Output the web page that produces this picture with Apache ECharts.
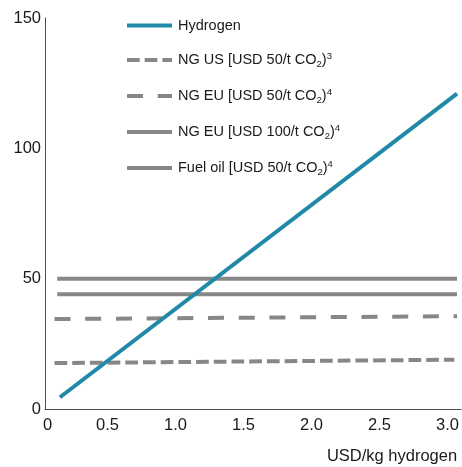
<!DOCTYPE html>
<html>
<head>
<meta charset="utf-8">
<script src="https://cdn.jsdelivr.net/npm/echarts@6/dist/echarts.min.js"></script>
<style>html,body{margin:0;padding:0;background:#fff}#c{width:462px;height:467px}</style>
</head>
<body>
<div id="c"></div>
<script>
// Data: [USD/kg hydrogen, value]
const hydrogen = [[0.15, 4.5], [3.07, 121]];
const ngUS = [[0.11, 17.6], [3.05, 18.9]];
const ngEU50 = [[0.11, 34.5], [3.07, 35.6]];
const ngEU100 = [[0.13, 44], [3.07, 44]];
const fuelOil = [[0.13, 50], [3.07, 50]];
const seriesNames = ['Hydrogen', 'NG US', 'NG EU 50', 'NG EU 100', 'Fuel oil'];
const legendLabels = {
  'Hydrogen': '{t|Hydrogen}',
  'NG US': '{t|NG US [USD 50/t CO}{sub|2}{t|)}{sup|3}',
  'NG EU 50': '{t|NG EU [USD 50/t CO}{sub|2}{t|)}{sup|4}',
  'NG EU 100': '{t|NG EU [USD 100/t CO}{sub|2}{t|)}{sup|4}',
  'Fuel oil': '{t|Fuel oil [USD 50/t CO}{sub|2}{t|)}{sup|4}'
};
const xTickLabels = ['0', '0.5', '1.0', '1.5', '2.0', '2.5', '3.0'];
const yTickLabels = ['0', '50', '100', '150'];
const xAxisName = 'USD/kg hydrogen';

const teal = '#2189a8';
const grey = '#878787';
const font = 'Liberation Sans';
const txt = '#1a1a1a';

const chart = echarts.init(document.getElementById('c'));
function greyLine(name, data, type) {
  return {
    name, type: 'line', data, symbol: 'none', silent: true,
    lineStyle: { color: grey, width: 4, type: type },
    itemStyle: { color: grey }
  };
}
chart.setOption({
  animation: false,
  grid: { left: 45, right: 0, top: 18, bottom: 58 },
  legend: {
    orient: 'vertical', left: 125, top: 18, padding: 0,
    data: seriesNames,
    itemWidth: 45, itemHeight: 14, itemGap: 18,
    lineStyle: { width: 4 },
    itemStyle: { opacity: 0 },
    formatter: n => legendLabels[n],
    textStyle: {
      color: txt, fontFamily: font, fontSize: 14.5, padding: [0, 0, 0, 1],
      rich: {
        t: { fontSize: 14.5, fontFamily: font, color: txt, lineHeight: 18 },
        sub: { fontSize: 9.5, fontFamily: font, color: txt, lineHeight: 18, verticalAlign: 'bottom' },
        sup: { fontSize: 9.5, fontFamily: font, color: txt, lineHeight: 18, verticalAlign: 'top' }
      }
    }
  },
  xAxis: {
    type: 'value', min: 0.04, max: 3.1,
    name: xAxisName, nameLocation: 'end', nameGap: -4,
    nameTextStyle: { fontFamily: font, fontSize: 16.5, color: txt, align: 'right', verticalAlign: 'top', padding: [39, 0, 0, 0] },
    axisLine: { lineStyle: { color: '#4d4d4d', width: 1 } },
    axisTick: { show: false },
    splitLine: { show: false },
    axisLabel: {
      margin: 8, fontFamily: font, fontSize: 16.5, color: txt, showMaxLabel: false,
      rich: { z: { fontFamily: font, fontSize: 16.5, color: txt, padding: [0, 0, 0, 5] } },
      formatter: v => {
        if (v < 0.1) return '{z|' + xTickLabels[0] + '}';
        const i = Math.round(v / 0.5);
        return Math.abs(v - i * 0.5) < 1e-6 ? xTickLabels[i] : '';
      }
    }
  },
  yAxis: {
    type: 'value', min: 0, max: 150, interval: 50,
    axisLine: { show: true, lineStyle: { color: '#4d4d4d', width: 1 } },
    axisTick: { show: false },
    splitLine: { show: false },
    axisLabel: {
      margin: 4, fontFamily: font, fontSize: 16.5, color: txt,
      formatter: v => yTickLabels[Math.round(v / 50)]
    }
  },
  series: [
    greyLine('NG US', ngUS, [12.7, 5]),
    greyLine('NG EU 50', ngEU50, [16, 14.7]),
    greyLine('NG EU 100', ngEU100, 'solid'),
    greyLine('Fuel oil', fuelOil, 'solid'),
    {
      name: 'Hydrogen', type: 'line', data: hydrogen, symbol: 'none', silent: true,
      lineStyle: { color: teal, width: 4 },
      itemStyle: { color: teal }
    }
  ]
});
</script>
</body>
</html>
